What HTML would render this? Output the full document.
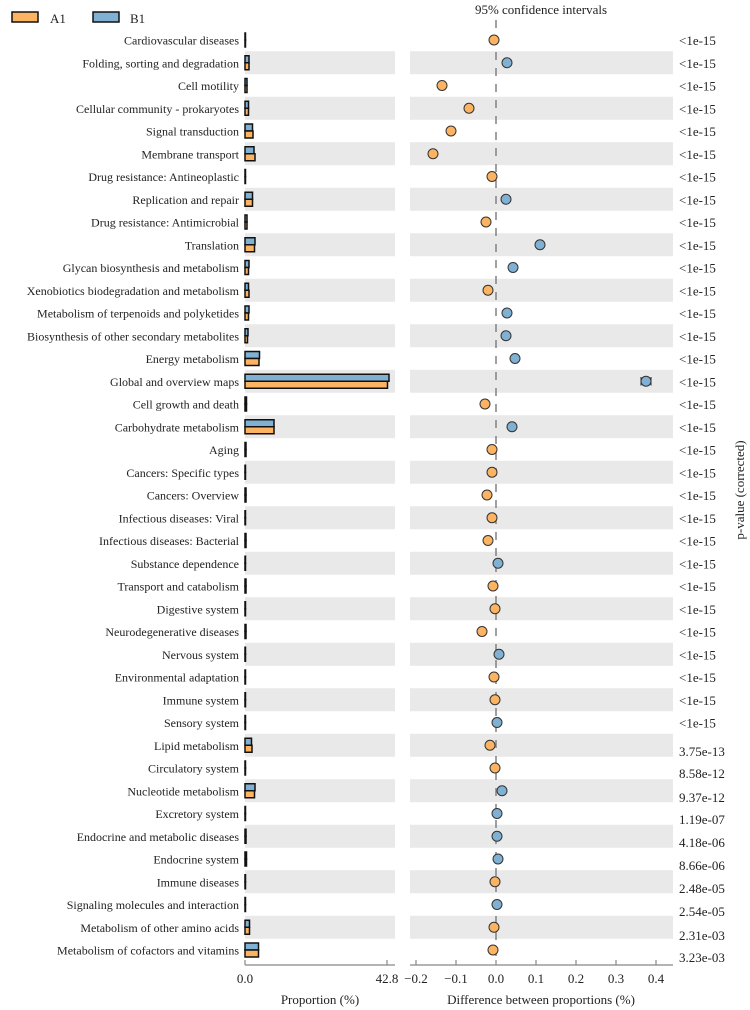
<!DOCTYPE html>
<html><head><meta charset="utf-8"><style>
html,body{margin:0;padding:0;background:#fff}
svg{display:block}
text{font-family:"Liberation Serif",serif;font-size:13px;fill:#222}
.l text{font-size:12px}
.l{text-anchor:end}
.o{fill:#fdb462;stroke:#333;stroke-width:1}
.b{fill:#80b1d3;stroke:#333;stroke-width:1}
.ob{fill:#fdb462;stroke:#111;stroke-width:1.5}
.bb{fill:#80b1d3;stroke:#111;stroke-width:1.5}
.g{fill:#e9e9e9}
</style></head><body>
<svg width="750" height="1010" xmlns="http://www.w3.org/2000/svg">
<rect x="12" y="12" width="26" height="10" class="ob"/><text x="50" y="23">A1</text>
<rect x="93" y="12" width="26" height="10" class="bb"/><text x="130" y="23">B1</text>
<text x="541" y="14" style="text-anchor:middle">95% confidence intervals</text>
<g class="g">
<rect x="245" y="51.25" width="150" height="23"/><rect x="410" y="51.25" width="263" height="23"/>
<rect x="245" y="96.75" width="150" height="23"/><rect x="410" y="96.75" width="263" height="23"/>
<rect x="245" y="142.25" width="150" height="23"/><rect x="410" y="142.25" width="263" height="23"/>
<rect x="245" y="187.75" width="150" height="23"/><rect x="410" y="187.75" width="263" height="23"/>
<rect x="245" y="233.25" width="150" height="23"/><rect x="410" y="233.25" width="263" height="23"/>
<rect x="245" y="278.75" width="150" height="23"/><rect x="410" y="278.75" width="263" height="23"/>
<rect x="245" y="324.25" width="150" height="23"/><rect x="410" y="324.25" width="263" height="23"/>
<rect x="245" y="369.75" width="150" height="23"/><rect x="410" y="369.75" width="263" height="23"/>
<rect x="245" y="415.25" width="150" height="23"/><rect x="410" y="415.25" width="263" height="23"/>
<rect x="245" y="460.75" width="150" height="23"/><rect x="410" y="460.75" width="263" height="23"/>
<rect x="245" y="506.25" width="150" height="23"/><rect x="410" y="506.25" width="263" height="23"/>
<rect x="245" y="551.75" width="150" height="23"/><rect x="410" y="551.75" width="263" height="23"/>
<rect x="245" y="597.25" width="150" height="23"/><rect x="410" y="597.25" width="263" height="23"/>
<rect x="245" y="642.75" width="150" height="23"/><rect x="410" y="642.75" width="263" height="23"/>
<rect x="245" y="688.25" width="150" height="23"/><rect x="410" y="688.25" width="263" height="23"/>
<rect x="245" y="733.75" width="150" height="23"/><rect x="410" y="733.75" width="263" height="23"/>
<rect x="245" y="779.25" width="150" height="23"/><rect x="410" y="779.25" width="263" height="23"/>
<rect x="245" y="824.75" width="150" height="23"/><rect x="410" y="824.75" width="263" height="23"/>
<rect x="245" y="870.25" width="150" height="23"/><rect x="410" y="870.25" width="263" height="23"/>
<rect x="245" y="915.75" width="150" height="23"/><rect x="410" y="915.75" width="263" height="23"/>
</g>
<line x1="496" y1="20" x2="496" y2="958" stroke="#888" stroke-width="1.6" stroke-dasharray="8,8"/>
<g class="l">
<text x="239" y="44.5">Cardiovascular diseases</text>
<text x="239" y="67.25">Folding, sorting and degradation</text>
<text x="239" y="90">Cell motility</text>
<text x="239" y="112.75">Cellular community - prokaryotes</text>
<text x="239" y="135.5">Signal transduction</text>
<text x="239" y="158.25">Membrane transport</text>
<text x="239" y="181">Drug resistance: Antineoplastic</text>
<text x="239" y="203.75">Replication and repair</text>
<text x="239" y="226.5">Drug resistance: Antimicrobial</text>
<text x="239" y="249.25">Translation</text>
<text x="239" y="272">Glycan biosynthesis and metabolism</text>
<text x="239" y="294.75">Xenobiotics biodegradation and metabolism</text>
<text x="239" y="317.5">Metabolism of terpenoids and polyketides</text>
<text x="239" y="340.25">Biosynthesis of other secondary metabolites</text>
<text x="239" y="363">Energy metabolism</text>
<text x="239" y="385.75">Global and overview maps</text>
<text x="239" y="408.5">Cell growth and death</text>
<text x="239" y="431.25">Carbohydrate metabolism</text>
<text x="239" y="454">Aging</text>
<text x="239" y="476.75">Cancers: Specific types</text>
<text x="239" y="499.5">Cancers: Overview</text>
<text x="239" y="522.25">Infectious diseases: Viral</text>
<text x="239" y="545">Infectious diseases: Bacterial</text>
<text x="239" y="567.75">Substance dependence</text>
<text x="239" y="590.5">Transport and catabolism</text>
<text x="239" y="613.25">Digestive system</text>
<text x="239" y="636">Neurodegenerative diseases</text>
<text x="239" y="658.75">Nervous system</text>
<text x="239" y="681.5">Environmental adaptation</text>
<text x="239" y="704.25">Immune system</text>
<text x="239" y="727">Sensory system</text>
<text x="239" y="749.75">Lipid metabolism</text>
<text x="239" y="772.5">Circulatory system</text>
<text x="239" y="795.25">Nucleotide metabolism</text>
<text x="239" y="818">Excretory system</text>
<text x="239" y="840.75">Endocrine and metabolic diseases</text>
<text x="239" y="863.5">Endocrine system</text>
<text x="239" y="886.25">Immune diseases</text>
<text x="239" y="909">Signaling molecules and interaction</text>
<text x="239" y="931.75">Metabolism of other amino acids</text>
<text x="239" y="954.5">Metabolism of cofactors and vitamins</text>
</g>
<g>
<rect x="245" y="33" width="0.5" height="7" class="bb"/><rect x="245" y="40" width="0.5" height="7" class="ob"/>
<rect x="245" y="55.75" width="4" height="7" class="bb"/><rect x="245" y="62.75" width="4" height="7" class="ob"/>
<rect x="245" y="78.5" width="2" height="7" class="bb"/><rect x="245" y="85.5" width="2" height="7" class="ob"/>
<rect x="245" y="101.25" width="3.5" height="7" class="bb"/><rect x="245" y="108.25" width="3.5" height="7" class="ob"/>
<rect x="245" y="124" width="7.5" height="7" class="bb"/><rect x="245" y="131" width="8" height="7" class="ob"/>
<rect x="245" y="146.75" width="9" height="7" class="bb"/><rect x="245" y="153.75" width="10" height="7" class="ob"/>
<rect x="245" y="169.5" width="0.5" height="7" class="bb"/><rect x="245" y="176.5" width="0.5" height="7" class="ob"/>
<rect x="245" y="192.25" width="7.5" height="7" class="bb"/><rect x="245" y="199.25" width="7.5" height="7" class="ob"/>
<rect x="245" y="215" width="2" height="7" class="bb"/><rect x="245" y="222" width="2" height="7" class="ob"/>
<rect x="245" y="237.75" width="10" height="7" class="bb"/><rect x="245" y="244.75" width="9.5" height="7" class="ob"/>
<rect x="245" y="260.5" width="4" height="7" class="bb"/><rect x="245" y="267.5" width="3.5" height="7" class="ob"/>
<rect x="245" y="283.25" width="3.5" height="7" class="bb"/><rect x="245" y="290.25" width="4" height="7" class="ob"/>
<rect x="245" y="306" width="4" height="7" class="bb"/><rect x="245" y="313" width="3.5" height="7" class="ob"/>
<rect x="245" y="328.75" width="3" height="7" class="bb"/><rect x="245" y="335.75" width="2.5" height="7" class="ob"/>
<rect x="245" y="351.5" width="14.5" height="7" class="bb"/><rect x="245" y="358.5" width="14" height="7" class="ob"/>
<rect x="245" y="374.25" width="144" height="7" class="bb"/><rect x="245" y="381.25" width="142.5" height="7" class="ob"/>
<rect x="245" y="397" width="1.5" height="7" class="bb"/><rect x="245" y="404" width="1.5" height="7" class="ob"/>
<rect x="245" y="419.75" width="29" height="7" class="bb"/><rect x="245" y="426.75" width="29" height="7" class="ob"/>
<rect x="245" y="442.5" width="1" height="7" class="bb"/><rect x="245" y="449.5" width="1" height="7" class="ob"/>
<rect x="245" y="465.25" width="0.5" height="7" class="bb"/><rect x="245" y="472.25" width="0.5" height="7" class="ob"/>
<rect x="245" y="488" width="1" height="7" class="bb"/><rect x="245" y="495" width="1" height="7" class="ob"/>
<rect x="245" y="510.75" width="0.5" height="7" class="bb"/><rect x="245" y="517.75" width="0.5" height="7" class="ob"/>
<rect x="245" y="533.5" width="1" height="7" class="bb"/><rect x="245" y="540.5" width="1" height="7" class="ob"/>
<rect x="245" y="556.25" width="0.5" height="7" class="bb"/><rect x="245" y="563.25" width="0.5" height="7" class="ob"/>
<rect x="245" y="579" width="1" height="7" class="bb"/><rect x="245" y="586" width="1" height="7" class="ob"/>
<rect x="245" y="601.75" width="0.5" height="7" class="bb"/><rect x="245" y="608.75" width="0.5" height="7" class="ob"/>
<rect x="245" y="624.5" width="1" height="7" class="bb"/><rect x="245" y="631.5" width="1" height="7" class="ob"/>
<rect x="245" y="647.25" width="0.5" height="7" class="bb"/><rect x="245" y="654.25" width="0.5" height="7" class="ob"/>
<rect x="245" y="670" width="0.5" height="7" class="bb"/><rect x="245" y="677" width="0.5" height="7" class="ob"/>
<rect x="245" y="692.75" width="0.5" height="7" class="bb"/><rect x="245" y="699.75" width="0.5" height="7" class="ob"/>
<rect x="245" y="715.5" width="0.5" height="7" class="bb"/><rect x="245" y="722.5" width="0.5" height="7" class="ob"/>
<rect x="245" y="738.25" width="6.5" height="7" class="bb"/><rect x="245" y="745.25" width="7" height="7" class="ob"/>
<rect x="245" y="761" width="0.5" height="7" class="bb"/><rect x="245" y="768" width="0.5" height="7" class="ob"/>
<rect x="245" y="783.75" width="10" height="7" class="bb"/><rect x="245" y="790.75" width="9.5" height="7" class="ob"/>
<rect x="245" y="806.5" width="0.5" height="7" class="bb"/><rect x="245" y="813.5" width="0.5" height="7" class="ob"/>
<rect x="245" y="829.25" width="1" height="7" class="bb"/><rect x="245" y="836.25" width="1" height="7" class="ob"/>
<rect x="245" y="852" width="1.5" height="7" class="bb"/><rect x="245" y="859" width="1.5" height="7" class="ob"/>
<rect x="245" y="874.75" width="0.5" height="7" class="bb"/><rect x="245" y="881.75" width="0.5" height="7" class="ob"/>
<rect x="245" y="897.5" width="0.5" height="7" class="bb"/><rect x="245" y="904.5" width="0.5" height="7" class="ob"/>
<rect x="245" y="920.25" width="4.5" height="7" class="bb"/><rect x="245" y="927.25" width="4.5" height="7" class="ob"/>
<rect x="245" y="943" width="13.5" height="7" class="bb"/><rect x="245" y="950" width="13.5" height="7" class="ob"/>
</g>
<line x1="641" y1="381.25" x2="651" y2="381.25" stroke="#222" stroke-width="1"/>
<line x1="641" y1="377" x2="641" y2="385.5" stroke="#222" stroke-width="1"/>
<line x1="651" y1="377" x2="651" y2="385.5" stroke="#222" stroke-width="1"/>
<g>
<circle cx="494" cy="40" r="5" class="o"/>
<circle cx="507" cy="62.75" r="5" class="b"/>
<circle cx="442" cy="85.5" r="5" class="o"/>
<circle cx="469" cy="108.25" r="5" class="o"/>
<circle cx="451" cy="131" r="5" class="o"/>
<circle cx="433" cy="153.75" r="5" class="o"/>
<circle cx="492" cy="176.5" r="5" class="o"/>
<circle cx="506" cy="199.25" r="5" class="b"/>
<circle cx="486" cy="222" r="5" class="o"/>
<circle cx="540" cy="244.75" r="5" class="b"/>
<circle cx="513" cy="267.5" r="5" class="b"/>
<circle cx="488" cy="290.25" r="5" class="o"/>
<circle cx="507" cy="313" r="5" class="b"/>
<circle cx="506" cy="335.75" r="5" class="b"/>
<circle cx="515" cy="358.5" r="5" class="b"/>
<circle cx="646" cy="381.25" r="5" class="b"/>
<circle cx="485" cy="404" r="5" class="o"/>
<circle cx="512" cy="426.75" r="5" class="b"/>
<circle cx="492" cy="449.5" r="5" class="o"/>
<circle cx="492" cy="472.25" r="5" class="o"/>
<circle cx="487" cy="495" r="5" class="o"/>
<circle cx="492" cy="517.75" r="5" class="o"/>
<circle cx="488" cy="540.5" r="5" class="o"/>
<circle cx="498" cy="563.25" r="5" class="b"/>
<circle cx="493" cy="586" r="5" class="o"/>
<circle cx="495" cy="608.75" r="5" class="o"/>
<circle cx="482" cy="631.5" r="5" class="o"/>
<circle cx="499" cy="654.25" r="5" class="b"/>
<circle cx="494" cy="677" r="5" class="o"/>
<circle cx="495" cy="699.75" r="5" class="o"/>
<circle cx="497" cy="722.5" r="5" class="b"/>
<circle cx="490" cy="745.25" r="5" class="o"/>
<circle cx="495" cy="768" r="5" class="o"/>
<circle cx="502" cy="790.75" r="5" class="b"/>
<circle cx="497" cy="813.5" r="5" class="b"/>
<circle cx="497" cy="836.25" r="5" class="b"/>
<circle cx="498" cy="859" r="5" class="b"/>
<circle cx="495" cy="881.75" r="5" class="o"/>
<circle cx="497" cy="904.5" r="5" class="b"/>
<circle cx="494" cy="927.25" r="5" class="o"/>
<circle cx="493" cy="950" r="5" class="o"/>
</g>
<g>
<text x="679" y="45">&lt;1e-15</text>
<text x="679" y="67.75">&lt;1e-15</text>
<text x="679" y="90.5">&lt;1e-15</text>
<text x="679" y="113.25">&lt;1e-15</text>
<text x="679" y="136">&lt;1e-15</text>
<text x="679" y="158.75">&lt;1e-15</text>
<text x="679" y="181.5">&lt;1e-15</text>
<text x="679" y="204.25">&lt;1e-15</text>
<text x="679" y="227">&lt;1e-15</text>
<text x="679" y="249.75">&lt;1e-15</text>
<text x="679" y="272.5">&lt;1e-15</text>
<text x="679" y="295.25">&lt;1e-15</text>
<text x="679" y="318">&lt;1e-15</text>
<text x="679" y="340.75">&lt;1e-15</text>
<text x="679" y="363.5">&lt;1e-15</text>
<text x="679" y="386.25">&lt;1e-15</text>
<text x="679" y="409">&lt;1e-15</text>
<text x="679" y="431.75">&lt;1e-15</text>
<text x="679" y="454.5">&lt;1e-15</text>
<text x="679" y="477.25">&lt;1e-15</text>
<text x="679" y="500">&lt;1e-15</text>
<text x="679" y="522.75">&lt;1e-15</text>
<text x="679" y="545.5">&lt;1e-15</text>
<text x="679" y="568.25">&lt;1e-15</text>
<text x="679" y="591">&lt;1e-15</text>
<text x="679" y="613.75">&lt;1e-15</text>
<text x="679" y="636.5">&lt;1e-15</text>
<text x="679" y="659.25">&lt;1e-15</text>
<text x="679" y="682">&lt;1e-15</text>
<text x="679" y="704.75">&lt;1e-15</text>
<text x="679" y="727.5">&lt;1e-15</text>
<text x="679" y="756">3.75e-13</text>
<text x="679" y="778">8.58e-12</text>
<text x="679" y="802">9.37e-12</text>
<text x="679" y="824">1.19e-07</text>
<text x="679" y="847">4.18e-06</text>
<text x="679" y="870">8.66e-06</text>
<text x="679" y="893">2.48e-05</text>
<text x="679" y="916">2.54e-05</text>
<text x="679" y="940">2.31e-03</text>
<text x="679" y="962">3.23e-03</text>
</g>
<text transform="translate(744,490) rotate(-90)" style="text-anchor:middle">p-value (corrected)</text>
<g stroke="#888" stroke-width="1.2">
<line x1="245" y1="965" x2="395" y2="965"/>
<line x1="245" y1="960" x2="245" y2="965"/><line x1="387" y1="960" x2="387" y2="965"/>
<line x1="410" y1="965" x2="673" y2="965"/>
<line x1="416" y1="960" x2="416" y2="965"/><line x1="456" y1="960" x2="456" y2="965"/>
<line x1="496" y1="960" x2="496" y2="965"/><line x1="536" y1="960" x2="536" y2="965"/>
<line x1="576" y1="960" x2="576" y2="965"/><line x1="616" y1="960" x2="616" y2="965"/>
<line x1="656" y1="960" x2="656" y2="965"/>
</g>
<g style="text-anchor:middle">
<text x="245" y="983">0.0</text><text x="387" y="983">42.8</text>
<text x="416" y="983">−0.2</text><text x="456" y="983">−0.1</text><text x="496" y="983">0.0</text>
<text x="536" y="983">0.1</text><text x="576" y="983">0.2</text><text x="616" y="983">0.3</text><text x="656" y="983">0.4</text>
<text x="320" y="1004">Proportion (%)</text>
<text x="541" y="1004">Difference between proportions (%)</text>
</g>
</svg>
</body></html>
